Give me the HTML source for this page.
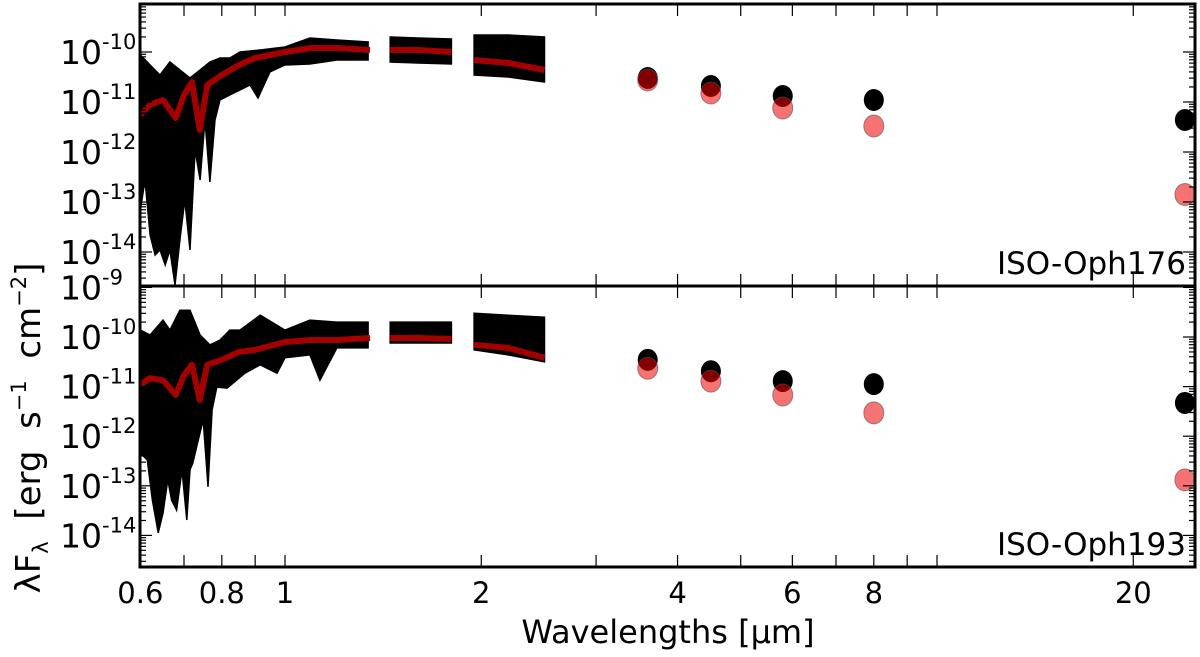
<!DOCTYPE html>
<html><head><meta charset="utf-8"><style>
html,body{margin:0;padding:0;background:#fff;}
svg{display:block;font-family:"DejaVu Sans","Liberation Sans",sans-serif;}
</style></head><body>
<svg id="chart" width="1200" height="657" viewBox="0 0 1200 657" xmlns="http://www.w3.org/2000/svg">
<text x="668" y="643" font-size="32" text-anchor="middle">Wavelengths [μm]</text>
<text transform="translate(40,428) rotate(-90)" font-size="34" text-anchor="middle" xml:space="preserve">λF<tspan font-size="21" dy="8">λ</tspan><tspan dy="-8">  [erg  s</tspan><tspan font-size="21" dy="-14">−1</tspan><tspan dy="14">  cm</tspan><tspan font-size="21" dy="-14">−2</tspan><tspan dy="14">]</tspan></text>
</svg>
<script>
// ---- data (log10 of lambda*F_lambda) ----
const topHiWl = [0.600,0.621,0.643,0.666,0.690,0.715,0.741,0.767,0.795,0.823,0.853,0.916,1.0,1.092,1.201,1.341];
const topHi   = [-10.06,-10.26,-10.46,-10.2,-10.36,-10.52,-10.36,-10.2,-10.12,-10.12,-10.0,-9.96,-9.9,-9.72,-9.76,-9.8];
const topLoWl = [0.600,0.610,0.621,0.632,0.643,0.655,0.666,0.678,0.690,0.702,0.715,0.728,0.741,0.754,0.767,0.781,0.795,0.823,0.853,0.884,0.909,0.948,1.0,1.092,1.201,1.341];
const topLo   = [-13.16,-12.56,-13.66,-14.06,-13.96,-14.26,-13.96,-14.66,-13.76,-12.96,-13.96,-11.96,-12.56,-11.36,-12.6,-11.36,-10.96,-10.86,-10.76,-10.66,-10.92,-10.4,-10.26,-10.24,-10.16,-10.16];
const modelWl = [0.6,0.62,0.65,0.68,0.70,0.72,0.74,0.76,0.8,0.85,0.9,1.0,1.1,1.2,1.35];
const topModel = [-11.26,-11.06,-10.96,-11.32,-10.86,-10.6,-11.56,-10.66,-10.46,-10.26,-10.12,-10.0,-9.92,-9.92,-9.96];
const seg2Wl = [1.45,1.6,1.8];
const seg3Wl = [1.95,2.2,2.5];
const topSeg2Hi=[-9.7,-9.72,-9.74], topSeg2Lo=[-10.2,-10.22,-10.24], topSeg2Model=[-9.96,-9.96,-10.0];
const topSeg3Hi=[-9.66,-9.66,-9.7], topSeg3Lo=[-10.46,-10.5,-10.6], topSeg3Model=[-10.16,-10.22,-10.36];
const botHiWl = [0.600,0.621,0.650,0.666,0.690,0.715,0.741,0.767,0.795,0.823,0.853,0.916,1.0,1.092,1.201,1.341];
const botHi   = [-9.86,-9.96,-9.66,-9.86,-9.46,-9.46,-9.96,-10.16,-10.06,-9.86,-9.86,-9.56,-9.86,-9.66,-9.7,-9.7];
const botLoWl = [0.600,0.615,0.626,0.639,0.650,0.661,0.670,0.682,0.695,0.707,0.715,0.722,0.736,0.749,0.762,0.773,0.786,0.815,0.868,0.916,0.972,1.0,1.092,1.131,1.201,1.341];
const botLo   = [-12.34,-12.48,-13.29,-13.95,-13.55,-12.88,-13.29,-13.49,-12.68,-13.69,-12.68,-12.54,-12.08,-11.67,-13.02,-11.47,-11.01,-11.03,-10.73,-10.56,-10.73,-10.42,-10.36,-10.87,-10.22,-10.22];
const botModel = [-10.97,-10.83,-10.87,-11.17,-10.77,-10.56,-11.27,-10.56,-10.46,-10.3,-10.26,-10.1,-10.06,-10.06,-10.02];
const botSeg2Hi=[-9.7,-9.7,-9.7], botSeg2Lo=[-10.12,-10.12,-10.12], botSeg2Model=[-10.02,-10.02,-10.04];
const botSeg3Hi=[-9.52,-9.56,-9.6], botSeg3Lo=[-10.26,-10.36,-10.5], botSeg3Model=[-10.16,-10.22,-10.42];
const photWl = [3.6,4.5,5.8,8.0,24.0];
const topObs = [-10.52,-10.68,-10.88,-10.96,-11.36];
const topMod = [-10.56,-10.82,-11.12,-11.48,-12.85];
const botObs = [-10.46,-10.69,-10.89,-10.95,-11.33];
const botMod = [-10.63,-10.89,-11.17,-11.53,-12.88];
const xTicks = [0.6,0.7,0.8,0.9,1,2,3,4,5,6,7,8,9,10,20];
const xTickLabels = ["0.6","","0.8","","1","2","","4","","6","","8","","","20"];
const yTickExps = [-9,-10,-11,-12,-13,-14];

// ---- layout ----
const L=140,R=1195;
const X=w=>285+652*Math.log10(w);
const panels=[{top:4,bot:286,y0:52,dec:50,name:"ISO-Oph176",hiWl:topHiWl,hi:topHi,loWl:topLoWl,lo:topLo,model:topModel,
  s2:[topSeg2Hi,topSeg2Lo,topSeg2Model],s3:[topSeg3Hi,topSeg3Lo,topSeg3Model],obs:topObs,mod:topMod,key:"top"},
 {top:286,bot:567,y0:337,dec:49.6,name:"ISO-Oph193",hiWl:botHiWl,hi:botHi,loWl:botLoWl,lo:botLo,model:botModel,
  s2:[botSeg2Hi,botSeg2Lo,botSeg2Model],s3:[botSeg3Hi,botSeg3Lo,botSeg3Model],obs:botObs,mod:botMod,key:"bottom"}];
const svg=document.getElementById('chart');
const NS="http://www.w3.org/2000/svg";
function mk(t,a,p){const e=document.createElementNS(NS,t);for(const k in a)e.setAttribute(k,a[k]);(p||svg).appendChild(e);return e;}

panels.forEach(p=>{
  const Y=v=>p.y0+(-10-v)*p.dec;
  const g=mk('g',{});
  
  
  const clipId='clip'+p.key;
  const cp=mk('clipPath',{id:clipId},g);mk('rect',{x:L,y:p.top,width:R-L,height:p.bot-p.top},cp);
  const dg=mk('g',{'clip-path':'url(#'+clipId+')'},g);
  function band(hwl,hi,lwl,lo,mwl,model,nm){
    let pts=hwl.map((w,i)=>X(w).toFixed(1)+','+Y(hi[i]).toFixed(1));
    for(let i=lwl.length-1;i>=0;i--)pts.push(X(lwl[i]).toFixed(1)+','+Y(lo[i]).toFixed(1));
    const b=mk('polygon',{points:pts.join(' '),fill:'#000',stroke:'#000','stroke-width':1.5,'stroke-linejoin':'miter'},dg);
    
    
    const m=mk('polyline',{points:mwl.map((w,i)=>X(w).toFixed(1)+','+Y(model[i]).toFixed(1)).join(' '),fill:'none',stroke:'#a30000','stroke-width':6,'stroke-linejoin':'round'},dg);
    
    
  }
  band(p.hiWl,p.hi,p.loWl,p.lo,modelWl,p.model,p.key+'-optical');
  band(seg2Wl,p.s2[0],seg2Wl,p.s2[1],seg2Wl,p.s2[2],p.key+'-h-band');
  band(seg3Wl,p.s3[0],seg3Wl,p.s3[1],seg3Wl,p.s3[2],p.key+'-k-band');
  photWl.forEach((w,i)=>{
    const c=mk('ellipse',{cx:X(w),cy:Y(p.obs[i]),rx:10,ry:11,fill:'#000'},dg);
    
    
  });
  photWl.forEach((w,i)=>{
    const c=mk('ellipse',{cx:X(w),cy:Y(p.mod[i]),rx:10,ry:11,fill:'rgba(240,0,0,0.55)',stroke:'rgba(80,80,80,0.6)','stroke-width':1},dg);
    
    
  });
  xTicks.forEach(w=>{const x=X(w);
    mk('line',{x1:x,x2:x,y1:p.top,y2:p.top+12,stroke:'#000','stroke-width':1.2},g);
    mk('line',{x1:x,x2:x,y1:p.bot,y2:p.bot-12,stroke:'#000','stroke-width':1.2},g);});
  for(let d=-15;d<=-9;d++){for(let k=1;k<=9;k++){
    const y=Y(d+Math.log10(k)); if(y<p.top||y>p.bot)continue;
    const len=k==1?12:6;
    mk('line',{x1:L,x2:L+len,y1:y,y2:y,stroke:'#000','stroke-width':1.2},g);
    mk('line',{x1:R,x2:R-len,y1:y,y2:y,stroke:'#000','stroke-width':1.2},g);}}
  yTickExps.forEach(e=>{const y=Y(e); if(y<p.top-5||y>p.bot+5)return;
    if(p.key==='top'&&e===-9)return;
    const t=mk('text',{x:60,y:y+12,'font-size':33},g);
    
    
    t.textContent='10';
    const s=mk('tspan',{dy:-15,'font-size':21},t);s.textContent=String(e);});
  mk('rect',{x:L,y:p.top,width:R-L,height:p.bot-p.top,fill:'none',stroke:'#000','stroke-width':3},g);
  const lab=mk('text',{x:1186,y:p.bot-12,'font-size':31,'text-anchor':'end'},g);
  
  
  lab.textContent=p.name;
});
xTicks.forEach((w,i)=>{ if(!xTickLabels[i])return;
  const t=mk('text',{x:X(w),y:603,'font-size':29,'text-anchor':'middle'});
  
  
  t.textContent=xTickLabels[i];});
</script>
</body></html>
